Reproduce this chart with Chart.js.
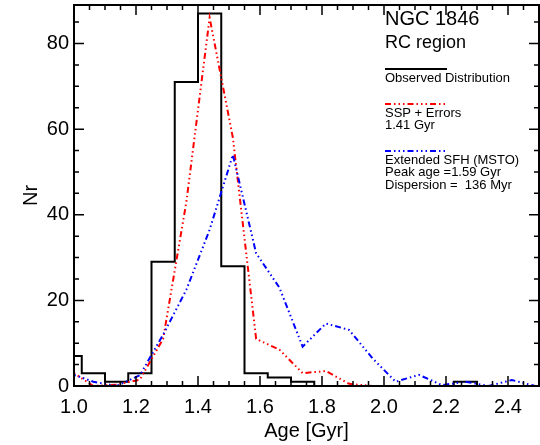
<!DOCTYPE html>
<html>
<head>
<meta charset="utf-8">
<script src="https://cdn.jsdelivr.net/npm/chart.js@4.4.1/dist/chart.umd.min.js"></script>
<style>
  html, body { margin: 0; padding: 0; background: #fff; }
  #wrap { width: 540px; height: 445px; }
</style>
</head>
<body>
<div id="wrap"><canvas id="chart" width="540" height="445"></canvas></div>
<script>
// observed RC-region age histogram: bin edges (Gyr) and counts per bin
const binEdges = [0.950, 1.025, 1.100, 1.175, 1.250, 1.325, 1.400, 1.475, 1.550, 1.625, 1.700,
                  1.775, 1.850, 1.925, 2.000, 2.075, 2.150, 2.225, 2.300, 2.375, 2.450, 2.525];
const binCounts = [7, 3, 1, 3, 29, 71, 87, 28, 3, 2, 1, 0, 0, 0, 0, 0, 0, 1, 0, 0, 0];

// model curves, sampled at the bin centres
const modelAges = [0.9875, 1.0625, 1.1375, 1.2125, 1.2875, 1.3625, 1.4375, 1.5125, 1.5875, 1.6625, 1.7375,
                   1.8125, 1.8875, 1.9625, 2.0375, 2.1125, 2.1875, 2.2625, 2.3375, 2.4125, 2.4875];
const sspErrors   = [3.6, 0, 0.3, 1.5, 11, 43, 86, 58, 11, 8.5, 3, 3.5, 0.5, 0, 0, 0, 0, 0, 0, 0, 0];
const extendedSfh = [2.9, 1.0, 0, 2.5, 12, 22.5, 36.5, 54, 31, 23, 9.2, 14.6, 13.1, 6.5, 1.0, 2.6, 0.2, 1.0, 0, 1.4, 0];

const xTickValues = [1.0, 1.2, 1.4, 1.6, 1.8, 2.0, 2.2, 2.4];
const yTickValues = [0, 20, 40, 60, 80];

const headLines = ["NGC 1846", "RC region"];
const observedLabel = ["Observed Distribution"];
const sspLabel = ["SSP + Errors", "1.41 Gyr"];
const sfhLabel = ["Extended SFH (MSTO)", "Peak age =1.59 Gyr", "Dispersion =  136 Myr"];

const FONT = "'Liberation Sans', Arial, Helvetica, sans-serif";
const DASH = [6, 3, 1.5, 3, 1.5, 3, 1.5, 3];

const histData = binEdges.map((e, i) => ({ x: e, y: i < binCounts.length ? binCounts[i] : 0 }));
const sspData = modelAges.map((a, i) => ({ x: a, y: sspErrors[i] }));
const sfhData = modelAges.map((a, i) => ({ x: a, y: extendedSfh[i] }));

// IDL-style box with inward ticks on all four sides
const framePlugin = {
    id: 'frame',
    afterDatasetsDraw(chart) {
        const { ctx, chartArea: a, scales: { x, y } } = chart;
        ctx.save();
        ctx.strokeStyle = '#000';
        ctx.lineWidth = 2;
        ctx.strokeRect(a.left, a.top, a.right - a.left, a.bottom - a.top);
        ctx.lineWidth = 1.5;
        ctx.beginPath();
        for (let i = 0; i <= 30; i++) {
            const px = x.getPixelForValue(1.0 + i * 0.05);
            const len = i % 4 === 0 ? 10 : 5;
            ctx.moveTo(px, a.bottom); ctx.lineTo(px, a.bottom - len);
            ctx.moveTo(px, a.top); ctx.lineTo(px, a.top + len);
        }
        for (let i = 0; i <= 17; i++) {
            const py = y.getPixelForValue(i * 5);
            const len = i % 4 === 0 ? 10 : 5;
            ctx.moveTo(a.left, py); ctx.lineTo(a.left + len, py);
            ctx.moveTo(a.right, py); ctx.lineTo(a.right - len, py);
        }
        ctx.stroke();
        ctx.restore();
    }
};

// text block in the upper right
const notesPlugin = {
    id: 'notes',
    afterDraw(chart) {
        const ctx = chart.ctx;
        const x0 = 385, x1 = 447;
        ctx.save();
        ctx.fillStyle = '#000';
        ctx.textBaseline = 'middle';
        ctx.textAlign = 'left';
        ctx.font = `20px ${FONT}`;
        ctx.fillText(headLines[0], x0, 19);
        ctx.font = `18px ${FONT}`;
        ctx.fillText(headLines[1], x0, 43);

        const drawKey = (color, dash, ly, lines, ty) => {
            ctx.beginPath();
            ctx.strokeStyle = color;
            ctx.lineWidth = 2;
            ctx.setLineDash(dash);
            ctx.moveTo(x0, ly); ctx.lineTo(x1, ly);
            ctx.stroke();
            ctx.setLineDash([]);
            ctx.font = `13px ${FONT}`;
            lines.forEach((t, i) => ctx.fillText(t, x0, ty + i * 12.8));
        };
        drawKey('#000', [], 69, observedLabel, 78);
        drawKey('#ff0000', DASH, 104, sspLabel, 113);
        drawKey('#0000ff', DASH, 151, sfhLabel, 160);
        ctx.restore();
    }
};

new Chart(document.getElementById('chart'), {
    type: 'line',
    data: {
        datasets: [
            {
                label: 'Observed Distribution',
                data: histData,
                stepped: 'before',
                borderColor: '#000',
                borderWidth: 2,
                pointRadius: 0,
                fill: false,
                order: 3
            },
            {
                label: 'SSP + Errors',
                data: sspData,
                borderColor: '#ff0000',
                borderWidth: 2,
                borderDash: DASH,
                pointRadius: 0,
                tension: 0,
                fill: false,
                order: 2
            },
            {
                label: 'Extended SFH (MSTO)',
                data: sfhData,
                borderColor: '#0000ff',
                borderWidth: 2,
                borderDash: DASH,
                pointRadius: 0,
                tension: 0,
                fill: false,
                order: 1
            }
        ]
    },
    options: {
        responsive: false,
        animation: false,
        layout: { padding: { top: 5, right: 1, left: 0, bottom: 0 } },
        plugins: {
            legend: { display: false },
            tooltip: { enabled: false }
        },
        scales: {
            x: {
                type: 'linear',
                min: 1.0,
                max: 2.5,
                grid: { display: false, drawTicks: false },
                border: { display: false },
                afterBuildTicks: (s) => { s.ticks = xTickValues.map(v => ({ value: v })); },
                afterFit: (s) => { s.height = 59; s.paddingLeft = 0; s.paddingRight = 0; },
                ticks: {
                    autoSkip: false,
                    maxRotation: 0,
                    padding: 9,
                    color: '#000',
                    font: { family: FONT, size: 20 },
                    callback: (v) => Number(v).toFixed(1)
                },
                title: {
                    display: true,
                    text: 'Age [Gyr]',
                    color: '#000',
                    font: { family: FONT, size: 20 },
                    padding: { top: 0, bottom: 2 }
                }
            },
            y: {
                min: 0,
                max: 89,
                grid: { display: false, drawTicks: false },
                border: { display: false },
                afterBuildTicks: (s) => { s.ticks = yTickValues.map(v => ({ value: v })); },
                afterFit: (s) => { s.width = 74; s.paddingTop = 0; s.paddingBottom = 0; },
                ticks: {
                    autoSkip: false,
                    padding: 5,
                    color: '#000',
                    font: { family: FONT, size: 20 }
                },
                title: {
                    display: true,
                    text: 'Nr',
                    color: '#000',
                    font: { family: FONT, size: 20 },
                    padding: { top: 19, bottom: 0 }
                }
            }
        }
    },
    plugins: [framePlugin, notesPlugin]
});
</script>
</body>
</html>
